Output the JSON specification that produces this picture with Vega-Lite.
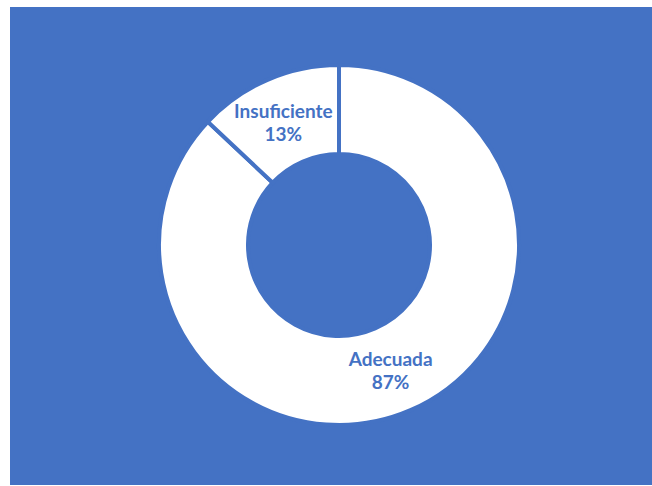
{
  "$schema": "https://vega.github.io/schema/vega-lite/v6.json",
  "autosize": {"type": "fit", "contains": "padding"},
  "width": 652,
  "height": 486,
  "padding": {"left": 10, "top": 7, "right": 0, "bottom": 1},
  "background": "white",
  "view": {"fill": "#4472C4", "stroke": null},
  "data": {
    "values": [
      {"category": "Adecuada", "value": 87, "label": "Adecuada|87%", "order": 1},
      {"category": "Insuficiente", "value": 13, "label": "Insuficiente|13%", "order": 2}
    ]
  },
  "encoding": {
    "theta": {"field": "value", "type": "quantitative", "stack": true},
    "order": {"field": "order", "type": "quantitative"}
  },
  "layer": [
    {
      "mark": {"type": "arc", "innerRadius": 91, "outerRadius": 180, "fill": "white", "stroke": "#4472C4", "strokeWidth": 4, "xOffset": 8, "yOffset": -1}
    },
    {
      "mark": {"type": "text", "radius": 135, "font": "Lato", "fontWeight": "bold", "fontSize": 19, "color": "#4472C4", "lineBreak": "|", "lineHeight": 23, "baseline": "middle", "xOffset": 6, "yOffset": -10},
      "encoding": {"text": {"field": "label", "type": "nominal"}}
    }
  ]
}
